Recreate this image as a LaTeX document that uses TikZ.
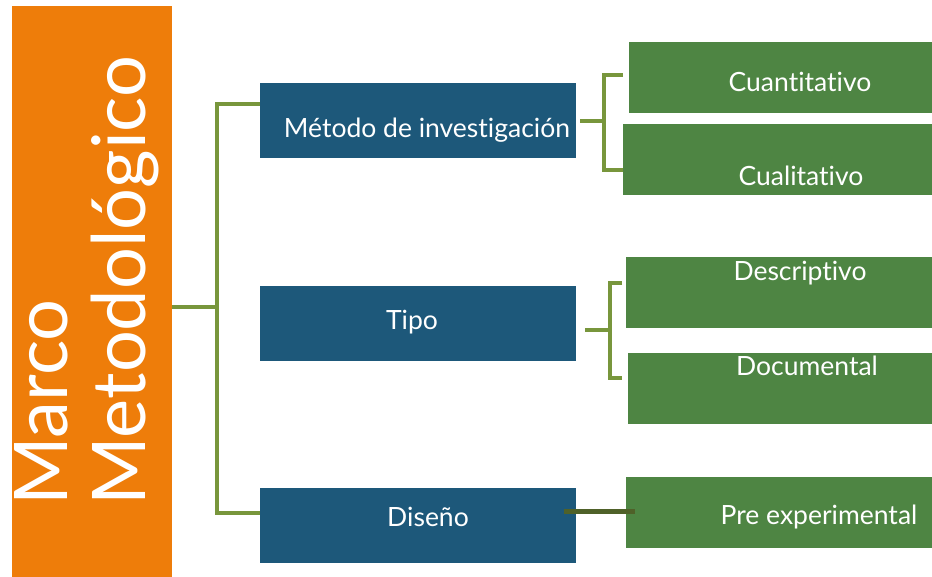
\documentclass[tikz,border=0pt]{standalone}
\usepackage{fontspec}
\setmainfont{Lato}[Ligatures=NoCommon]
\definecolor{naranja}{HTML}{EE7D0A}
\definecolor{azul}{HTML}{1D587A}
\definecolor{verde}{HTML}{4E8543}
\definecolor{oliva}{HTML}{78963C}
\definecolor{olivaosc}{HTML}{4F6129}
\tikzset{
  caja/.style={fill=azul, minimum width=316pt, minimum height=75pt, inner sep=0pt, anchor=north west},
  hoja/.style={fill=verde, minimum height=71pt, inner sep=0pt, anchor=north west},
  rotulo/.style={text=white, inner sep=0pt, text height=19pt, text depth=0pt, font=\fontsize{26.5}{30}\selectfont},
  linea/.style={draw=oliva, line width=4pt},
  enlace/.style={draw=olivaosc, line width=5pt},
}
\begin{document}
\begin{tikzpicture}[x=1pt,y=-1pt]
\useasboundingbox (0,0) rectangle (932,577);
\node[fill=naranja, minimum width=160pt, minimum height=571pt, inner sep=0pt, anchor=north west] (marco) at (12,6) {};
\node[rotate=90, anchor=west, align=left, text=white, inner sep=0pt, font=\fontsize{74}{78}\selectfont] (titulo) at (87,506) {Marco\\Metodológico};
\node[caja] (metodo) at (260,83) {};
\node[caja] (tipo) at (260,286) {};
\node[caja] (diseno) at (260,488) {};
\node[hoja, minimum width=303pt] (cuanti) at (629,42) {};
\node[hoja, minimum width=309pt] (cuali) at (623,124) {};
\node[hoja, minimum width=306pt] (descr) at (626,257) {};
\node[hoja, minimum width=304pt] (docum) at (628,353) {};
\node[hoja, minimum width=306pt] (pre) at (626,477) {};
\node[rotulo] (tmetodo) at (427,128) {Método de investigación};
\node[rotulo] (ttipo) at (412,320) {Tipo};
\node[rotulo] (tdiseno) at (428,517) {Diseño};
\node[rotulo] (tcuanti) at (800,82) {Cuantitativo};
\node[rotulo] (tcuali) at (801,176) {Cualitativo};
\node[rotulo] (tdescr) at (800,271) {Descriptivo};
\node[rotulo] (tdocum) at (807,366) {Documental};
\node[rotulo] (tpre) at (819,515) {Pre experimental};
\coordinate (ba) at (217,104);
\coordinate (bm) at (217,307);
\coordinate (bb) at (217,513);
\draw[linea] (metodo.west |- ba) -- (ba) -- (bb) -- (diseno.west |- bb);
\draw[linea] (marco.east |- bm) -- (bm);
\coordinate (m1) at (604,75);
\coordinate (m2) at (604,170);
\draw[linea] ([xshift=-6pt]cuanti.west |- m1) -- (m1) -- (m2) -- (cuali.west |- m2);
\draw[linea] ([xshift=4pt]metodo.east) -- (metodo.east -| m1);
\coordinate (t1) at (610,283);
\coordinate (t0) at (610,330);
\coordinate (t2) at (610,378);
\draw[linea] ([xshift=-4pt]descr.west |- t1) -- (t1) -- (t2) -- ([xshift=-6pt]docum.west |- t2);
\draw[linea] ([xshift=9pt]tipo.east |- t0) -- (t0);
\coordinate (p0) at (600,511);
\draw[enlace] ([xshift=-12pt]diseno.east |- p0) -- ([xshift=9pt]pre.west |- p0);
\end{tikzpicture}
\end{document}
